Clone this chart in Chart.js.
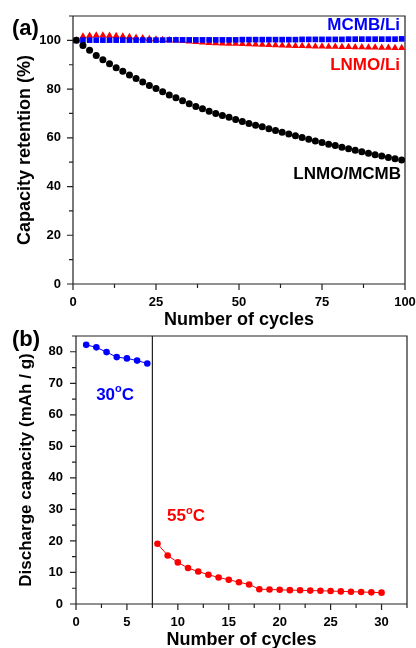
<!DOCTYPE html>
<html lang="en">
<head>
<meta charset="utf-8">
<title>Capacity retention</title>
<script src="https://cdn.jsdelivr.net/npm/chart.js@4.4.0/dist/chart.umd.min.js"></script>
<style>
  html, body { margin: 0; padding: 0; background: #fff; overflow: hidden; }
  .panel { position: absolute; left: 0; width: 416px; }
  #panelA { top: 0; height: 330px; }
  #panelB { top: 330px; height: 320px; }
</style>
</head>
<body>
<div class="panel" id="panelA"><canvas id="chartA" width="416" height="330"></canvas></div>
<div class="panel" id="panelB"><canvas id="chartB" width="416" height="320"></canvas></div>
<script>
// ---- panel (a): capacity retention (%), one marker every 2nd cycle
const cyclesA = [1, 3, 5, 7, 9, 11, 13, 15, 17, 19, 21, 23, 25, 27, 29, 31, 33, 35, 37, 39,
                 41, 43, 45, 47, 49, 51, 53, 55, 57, 59, 61, 63, 65, 67, 69, 71, 73, 75, 77, 79,
                 81, 83, 85, 87, 89, 91, 93, 95, 97, 99];
const lnmoMcmb = [100, 97.9, 95.9, 93.8, 92.0, 90.4, 88.8, 87.3, 85.8, 84.3,
                  82.9, 81.5, 80.2, 78.9, 77.6, 76.4, 75.2, 74.0, 72.9, 71.9,
                  70.9, 70.0, 69.2, 68.4, 67.5, 66.7, 65.9, 65.2, 64.5, 63.7,
                  63.0, 62.3, 61.6, 60.9, 60.1, 59.4, 58.7, 58.1, 57.4, 56.8,
                  56.1, 55.5, 54.9, 54.3, 53.7, 53.1, 52.5, 51.9, 51.4, 50.9];
const lnmoLi = [100, 101.6, 101.9, 102.0, 102.0, 101.9, 101.8, 101.6, 101.4, 101.1,
                100.9, 100.6, 100.4, 100.2, 100.1, 100.0, 99.8, 99.6, 99.4, 99.2,
                99.0, 98.9, 98.8, 98.7, 98.6, 98.5, 98.4, 98.3, 98.2, 98.1,
                98.0, 97.9, 97.8, 97.7, 97.7, 97.6, 97.5, 97.5, 97.4, 97.4,
                97.3, 97.3, 97.2, 97.2, 97.1, 97.1, 97.0, 97.0, 96.9, 96.9];
const mcmbLi = [100, 100.1, 100.1, 100.1, 100.1, 100.1, 100.1, 100.1, 100.1, 100.1,
                100.1, 100.1, 100.1, 100.1, 100.2, 100.2, 100.2, 100.2, 100.2, 100.2,
                100.2, 100.2, 100.2, 100.2, 100.2, 100.3, 100.3, 100.3, 100.3, 100.3,
                100.3, 100.3, 100.3, 100.3, 100.4, 100.4, 100.4, 100.4, 100.4, 100.4,
                100.4, 100.5, 100.5, 100.5, 100.5, 100.5, 100.5, 100.5, 100.5, 100.6];
const xTicksA = [0, 25, 50, 75, 100];
const xMinorA = [12.5, 37.5, 62.5, 87.5];
const yTicksA = [0, 20, 40, 60, 80, 100];
const yMinorA = [10, 30, 50, 70, 90, 110];

// ---- panel (b): discharge capacity (mAh/g), 30 C then 55 C
const cycles30 = [1, 2, 3, 4, 5, 6, 7];
const cap30 = [82.2, 81.4, 79.9, 78.3, 77.9, 77.2, 76.3];
const cycles55 = [8, 9, 10, 11, 12, 13, 14, 15, 16, 17, 18, 19, 20, 21, 22, 23, 24, 25, 26, 27, 28, 29, 30];
const cap55 = [19.1, 15.4, 13.2, 11.4, 10.3, 9.3, 8.4, 7.7, 6.9, 6.2, 4.7, 4.6,
               4.5, 4.4, 4.35, 4.25, 4.2, 4.1, 4.0, 3.9, 3.8, 3.7, 3.6];
const switchCycle = 7.5;
const xTicksB = [0, 5, 10, 15, 20, 25, 30];
const xMinorB = [2.5, 7.5, 12.5, 17.5, 22.5, 27.5, 32.5];
const yTicksB = [0, 10, 20, 30, 40, 50, 60, 70, 80];
const yMinorB = [5, 15, 25, 35, 45, 55, 65, 75, 85];

const FONT = "'Liberation Sans', Arial, sans-serif";
Chart.defaults.font.family = FONT;
Chart.defaults.font.weight = 'bold';
Chart.defaults.color = '#000';

const pts = (xs, ys) => xs.map((x, i) => ({x: x, y: ys[i]}));

// draws "30" + superscript o + "C" style text anchored at (px, py)
function drawRich(ctx, parts, px, py, align) {
  let w = 0;
  parts.forEach(p => { ctx.font = 'bold ' + p.size + 'px ' + FONT; p.w = ctx.measureText(p.t).width; w += p.w; });
  let cx = align === 'right' ? px - w : align === 'center' ? px - w / 2 : px;
  ctx.textAlign = 'left';
  parts.forEach(p => {
    ctx.font = 'bold ' + p.size + 'px ' + FONT;
    ctx.fillText(p.t, cx, py + (p.dy || 0));
    cx += p.w;
  });
}

// frame, outward ticks (major + minor), divider lines and text labels
function makeFrame(cfg) {
  return {
    id: 'frame',
    beforeDatasetsDraw(chart) {
      const {ctx, chartArea: a} = chart;
      const x = chart.scales.x, y = chart.scales.y;
      ctx.save();
      ctx.strokeStyle = '#222';
      ctx.lineWidth = 1.2;
      ctx.beginPath();
      ctx.rect(a.left, a.top, a.right - a.left, a.bottom - a.top);
      const tx = (vals, len) => vals.forEach(v => {
        const p = x.getPixelForValue(v);
        ctx.moveTo(p, a.bottom); ctx.lineTo(p, a.bottom + len);
      });
      const ty = (vals, len) => vals.forEach(v => {
        const p = y.getPixelForValue(v);
        ctx.moveTo(a.left, p); ctx.lineTo(a.left - len, p);
      });
      tx(cfg.xMajor, 6); tx(cfg.xMinor, 4);
      ty(cfg.yMajor, 6); ty(cfg.yMinor, 4);
      (cfg.vlines || []).forEach(v => {
        const p = x.getPixelForValue(v);
        ctx.moveTo(p, a.top); ctx.lineTo(p, a.bottom);
      });
      ctx.stroke();
      ctx.restore();
    },
    afterDraw(chart) {
      const ctx = chart.ctx;
      const x = chart.scales.x, y = chart.scales.y;
      ctx.save();
      ctx.textBaseline = 'middle';
      cfg.labels.forEach(l => {
        ctx.fillStyle = l.color;
        drawRich(ctx, l.parts, x.getPixelForValue(l.x), y.getPixelForValue(l.y), l.align);
      });
      ctx.fillStyle = '#000';
      drawRich(ctx, [{t: cfg.tag, size: 22}], 12, cfg.tagY, 'left');
      ctx.restore();
    }
  };
}

function scaleX(min, max, major, h, padR, title) {
  return {
    type: 'linear', min: min, max: max,
    afterBuildTicks: s => { s.ticks = major.map(v => ({value: v})); },
    ticks: {padding: 11, font: {size: 13, weight: 'bold'}, color: '#000', maxRotation: 0, autoSkip: false},
    grid: {display: false, drawTicks: false},
    border: {display: false},
    title: {display: true, text: title, color: '#000', font: {size: 18, weight: 'bold', lineHeight: 1}, padding: {top: 0, bottom: 1}},
    afterFit: s => { s.height = h; s.paddingLeft = 0; s.paddingRight = padR; }
  };
}

function scaleY(min, max, major, w, pad, title, size, tpad) {
  return {
    type: 'linear', min: min, max: max,
    afterBuildTicks: s => { s.ticks = major.map(v => ({value: v})); },
    ticks: {padding: pad, font: {size: 13, weight: 'bold'}, color: '#000'},
    grid: {display: false, drawTicks: false},
    border: {display: false},
    title: {display: true, text: title, color: '#000', font: {size: size, weight: 'bold', lineHeight: 1}, padding: {top: tpad, bottom: 0}},
    afterFit: s => { s.width = w; s.paddingTop = 0; s.paddingBottom = 0; }
  };
}

const common = {
  responsive: false,
  animation: false,
  events: [],
  plugins: {legend: {display: false}, tooltip: {enabled: false}}
};

new Chart(document.getElementById('chartA'), {
  type: 'scatter',
  data: {
    datasets: [
      {label: 'LNMO/MCMB', data: pts(cyclesA, lnmoMcmb), pointStyle: 'circle', pointRadius: 3.5,
       backgroundColor: '#000', borderColor: '#000', borderWidth: 0, order: 0},
      {label: 'MCMB/Li', data: pts(cyclesA, mcmbLi), pointStyle: 'rect', pointRadius: 4,
       backgroundColor: '#0000ff', borderColor: '#0000ff', borderWidth: 0, order: 1},
      {label: 'LNMO/Li', data: pts(cyclesA, lnmoLi), pointStyle: 'triangle', pointRadius: 4.2,
       backgroundColor: '#ff0000', borderColor: '#ff0000', borderWidth: 0, order: 2}
    ]
  },
  options: Object.assign({}, common, {
    layout: {padding: {top: 16, right: 0, bottom: 0, left: 0}},
    scales: {
      x: scaleX(0, 100, xTicksA, 46, 11, 'Number of cycles'),
      y: scaleY(0, 110, yTicksA, 73, 12, 'Capacity retention (%)', 18, 16)
    }
  }),
  plugins: [makeFrame({
    xMajor: xTicksA, xMinor: xMinorA, yMajor: yTicksA, yMinor: yMinorA,
    tag: '(a)', tagY: 29,
    labels: [
      {parts: [{t: 'MCMB/Li', size: 17}], x: 98.5, y: 106, color: '#0000ff', align: 'right'},
      {parts: [{t: 'LNMO/Li', size: 17}], x: 98.5, y: 89.6, color: '#ff0000', align: 'right'},
      {parts: [{t: 'LNMO/MCMB', size: 17}], x: 98.8, y: 45, color: '#000', align: 'right'}
    ]
  })]
});

new Chart(document.getElementById('chartB'), {
  type: 'scatter',
  data: {
    datasets: [
      {label: '30 C', data: pts(cycles30, cap30), showLine: true, borderWidth: 1,
       borderColor: '#0000ff', backgroundColor: '#0000ff', pointRadius: 3.3, pointBorderWidth: 0},
      {label: '55 C', data: pts(cycles55, cap55), showLine: true, borderWidth: 1,
       borderColor: '#ff0000', backgroundColor: '#ff0000', pointRadius: 3.3, pointBorderWidth: 0}
    ]
  },
  options: Object.assign({}, common, {
    layout: {padding: {top: 6, right: 0, bottom: 0, left: 0}},
    scales: {
      x: scaleX(0, 32.5, xTicksB, 46, 9, 'Number of cycles'),
      y: scaleY(0, 85, yTicksB, 76, 13, 'Discharge capacity (mAh / g)', 17, 18)
    }
  }),
  plugins: [makeFrame({
    xMajor: xTicksB, xMinor: xMinorB, yMajor: yTicksB, yMinor: yMinorB,
    vlines: [switchCycle],
    tag: '(b)', tagY: 10,
    labels: [
      {parts: [{t: '30', size: 17}, {t: 'o', size: 11, dy: -6}, {t: 'C', size: 17}], x: 3.84, y: 66.3, color: '#0000ff', align: 'center'},
      {parts: [{t: '55', size: 17}, {t: 'o', size: 11, dy: -6}, {t: 'C', size: 17}], x: 10.8, y: 27.7, color: '#ff0000', align: 'center'}
    ]
  })]
});
</script>
</body>
</html>
